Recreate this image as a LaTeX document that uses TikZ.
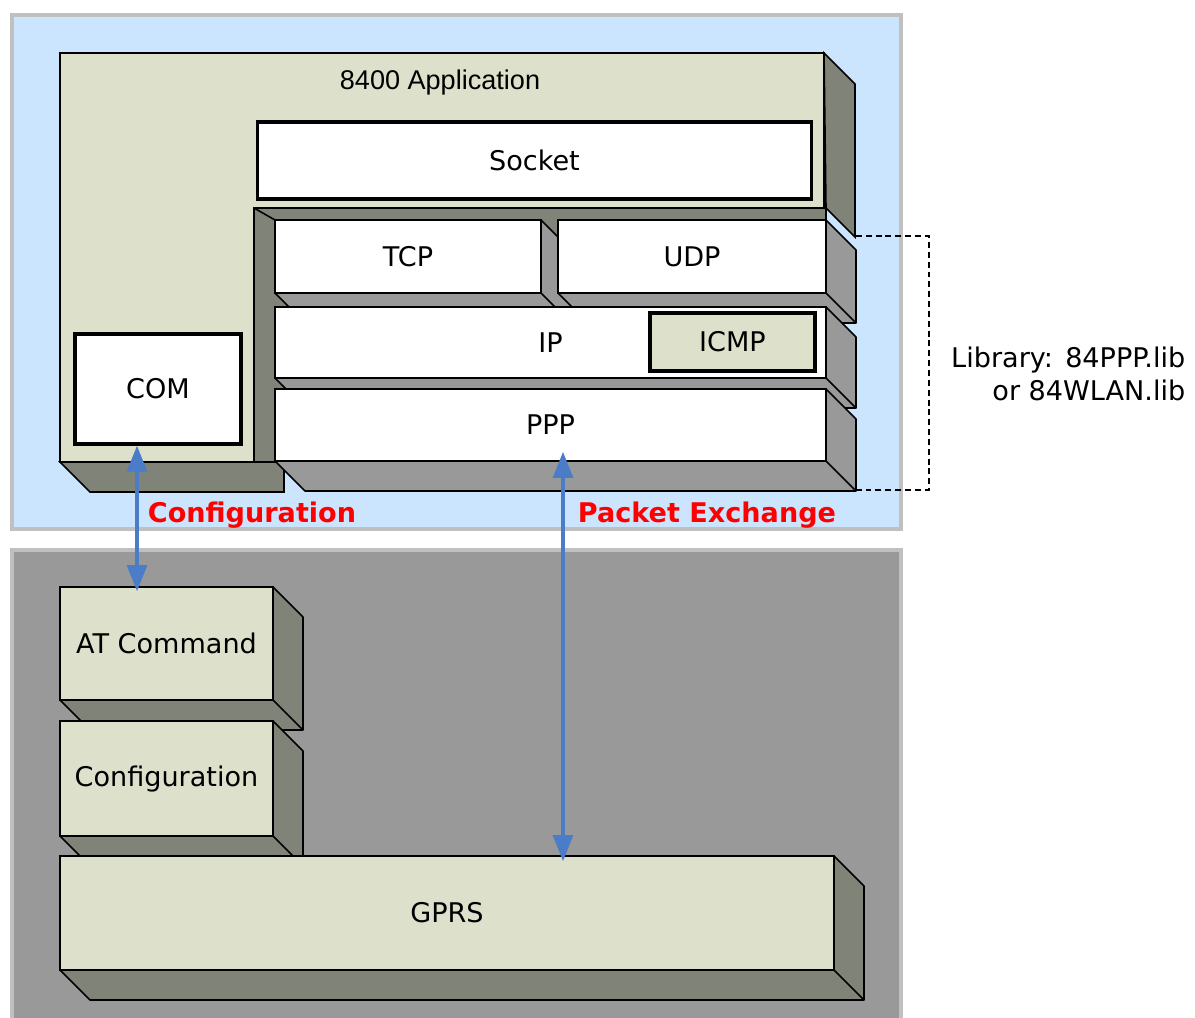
\documentclass[tikz,border=0pt]{standalone}
\usepackage{fontspec}
\setmainfont{DejaVu Sans}
\newfontfamily\arialfont{Liberation Sans}
\usetikzlibrary{arrows.meta,calc}

\definecolor{panelblue}{HTML}{CCE5FF}
\definecolor{panelgrey}{HTML}{999999}
\definecolor{panelrim}{HTML}{C0C0C0}
\definecolor{olive}{HTML}{DDE0CB}
\definecolor{oliveside}{HTML}{808478}
\definecolor{stackside}{HTML}{999999}
\definecolor{linkblue}{HTML}{4A7CC8}

\tikzset{
  face/.style={draw=black, line width=0.45pt, inner sep=0pt},
  boldface/.style={draw=black, line width=0.9pt, inner sep=0pt},
  link/.style={draw=linkblue, line width=1pt,
    {Triangle[length=7.4pt,width=5.6pt]}-{Triangle[length=7.4pt,width=5.6pt]}},
  tag/.style={text=red, font=\fontsize{7.7}{9.4}\selectfont\bfseries},
  bracket/.style={line width=0.6pt, dash pattern=on 1.7pt off 1.1pt},
}

% extruded block: name, x1, y1, x2, y2, front colour, side colour, text
\newcommand{\slab}[8]{%
  \filldraw[fill=#7, line width=0.45pt, line join=round]
    (#4,#3) -- ++(30,30) -- (#4+30,#5+30) -- (#2+30,#5+30) -- (#2,#5) -- (#4,#5) -- cycle;
  \draw[line width=0.45pt] (#4,#5) -- ++(30,30);
  \pgfmathsetmacro\slabw{(#4-#2)/100}%
  \pgfmathsetmacro\slabh{(#5-#3)/100}%
  \node[face, fill=#6, minimum width=\slabw cm, minimum height=\slabh cm]
    (#1) at ({(#2+#4)/2},{(#3+#5)/2}) {#8};
}

\begin{document}
\begin{tikzpicture}[x=0.01cm, y=-0.01cm, font=\fontsize{7.7}{9.4}\selectfont]
  \clip (0,0) rectangle (1195,1017);
  % panels
  \draw[panelrim, fill=panelblue, line width=1.1pt] (12,15) rectangle (901,529);
  \draw[panelrim, fill=panelgrey, line width=1.1pt] (12,550) rectangle (901,1040);

  % 8400 application block with its protocol well
  \filldraw[fill=oliveside, line width=0.45pt] (824,53) -- (855,84) -- (855,237) -- (826,208) -- cycle;
  \filldraw[fill=oliveside, line width=0.45pt] (60,462) -- (90,492) -- (284,492) -- (284,462) -- cycle;
  \filldraw[fill=oliveside, line width=0.45pt] (254,208) rectangle (826,462);
  \draw[line width=0.45pt] (254,208) -- (275,220);
  \slab{tcp}{275}{220}{541}{293}{white}{stackside}{TCP}
  \slab{udp}{558}{220}{826}{293}{white}{stackside}{UDP}
  \slab{ip}{275}{307}{826}{378}{white}{stackside}{IP}
  \slab{ppp}{275}{389}{826}{461}{white}{stackside}{PPP}
  \filldraw[fill=olive, line width=0.45pt]
    (60,53) -- (824,53) -- (824,208) -- (254,208) -- (254,462) -- (60,462) -- cycle;
  \node[font=\fontsize{7.7}{9.4}\selectfont\arialfont] (app) at (440,82) {8400 Application};
  \node[boldface, fill=white, minimum width=5.53cm, minimum height=0.77cm] (socket) at (534.5,160.5) {Socket};
  \node[boldface, fill=olive, minimum width=1.65cm, minimum height=0.58cm] (icmp) at (732.5,342) {ICMP};
  \node[boldface, fill=white, minimum width=1.66cm, minimum height=1.10cm] (com) at (158,389) {COM};

  % modem side
  \slab{at}{60}{587}{273}{700}{olive}{oliveside}{AT Command}
  \slab{cfg}{60}{721}{273}{836}{olive}{oliveside}{Configuration}
  \slab{gprs}{60}{856}{834}{970}{olive}{oliveside}{GPRS}

  % links between the two sides
  \coordinate (cfgx) at (137,0);
  \coordinate (pktx) at (563,0);
  \draw[link] (com.south -| cfgx) -- ($(at.north -| cfgx)+(0,5)$);
  \draw[link] ($(ppp.south -| pktx)+(0,-10)$) -- ($(gprs.north -| pktx)+(0,6)$);
  \node[tag] (cfgtag) at (252,515) {Configuration};
  \node[tag] (pkttag) at (707,515) {Packet Exchange};

  % library bracket
  \draw[bracket] ($(udp.north east)+(29,17)$) -- ++(73,0) |- ($(ppp.south east)+(29,28)$);
  \node[anchor=east, align=right, inner sep=0pt] (lib) at (1186,374)
    {Library:\hspace{0.45em}84PPP.lib\\or 84WLAN.lib};
\end{tikzpicture}
\end{document}
